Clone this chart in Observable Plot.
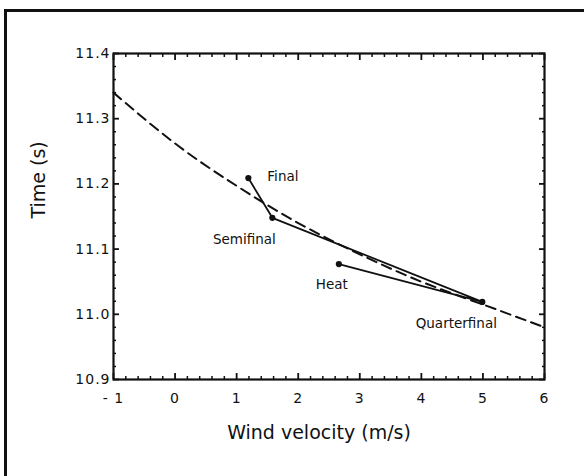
<!DOCTYPE html>
<html>
<head>
<meta charset="utf-8">
<script src="https://cdn.jsdelivr.net/npm/d3@7"></script>
<script src="https://cdn.jsdelivr.net/npm/@observablehq/plot@0.6"></script>
<style>
  html, body { margin: 0; padding: 0; background: #fff; overflow: hidden; }
  #wrap { position: relative; width: 584px; height: 476px; overflow: hidden; }
  #border { position: absolute; left: 4px; top: 9px; width: 700px; height: 700px;
            border-top: 3px solid #111; border-left: 3px solid #111; }
  #chart { position: absolute; left: 0; top: 0; }
  svg g[aria-label="x-axis tick label"] text,
  svg g[aria-label="y-axis tick label"] text { letter-spacing: 1px; }
</style>
</head>
<body>
<div id="wrap"><div id="border"></div><div id="chart"></div></div>
<script>
// Race rounds in chronological order (line connects them in this order)
const rounds = ["Heat", "Quarterfinal", "Semifinal", "Final"];
const wind = [2.66, 4.99, 1.58, 1.19];
const times = [11.077, 11.019, 11.148, 11.209];

// Dashed reference curve (time vs wind)
const curveWind = [-1, 0, 1, 2, 3, 4, 5, 6];
const curveTime = [11.340, 11.262, 11.197, 11.140, 11.092, 11.050, 11.015, 10.980];

// Axes
const xTicks = [-1, 0, 1, 2, 3, 4, 5, 6];
const xTickLabels = ["- 1", "0", "1", "2", "3", "4", "5", "6"];
const yTicks = [10.9, 11.0, 11.1, 11.2, 11.3, 11.4];
const yTickLabels = ["10.9", "11.0", "11.1", "11.2", "11.3", "11.4"];
const xLabel = "Wind velocity (m/s)";
const yLabel = "Time (s)";

const points = rounds.map((r, i) => ({round: r, wind: wind[i], time: times[i]}));
const curve = curveWind.map((w, i) => ({wind: w, time: curveTime[i]}));

const xMinor = d3.range(0, 36).map(i => -1 + i * 0.2).filter(v => Math.abs(v - Math.round(v)) > 1e-6);
const yMinor = d3.range(0, 26).map(i => 10.9 + i * 0.02).filter(v => Math.abs(v * 10 - Math.round(v * 10)) > 1e-6);

const labelStyle = {fontSize: 13.5, fill: "#111"};
const lab = (name, opts) => Plot.text(points.filter(d => d.round === name),
  {x: "wind", y: "time", text: "round", ...labelStyle, ...opts});

const chart = Plot.plot({
  width: 584,
  height: 476,
  marginLeft: 113,
  marginRight: 40,
  marginTop: 53,
  marginBottom: 97,
  style: {fontFamily: "DejaVu Sans", background: "transparent", color: "#111"},
  x: {domain: [-1, 6]},
  y: {domain: [10.9, 11.4]},
  marks: [
    // inward major ticks on all sides
    Plot.axisX({anchor: "bottom", ticks: xTicks, tickSize: -6, tickFormat: () => "", label: null, strokeWidth: 1.8}),
    Plot.axisX({anchor: "top", ticks: xTicks, tickSize: -6, tickFormat: () => "", label: null, strokeWidth: 1.8}),
    Plot.axisY({anchor: "left", ticks: yTicks, tickSize: -6, tickFormat: () => "", label: null, strokeWidth: 1.8}),
    Plot.axisY({anchor: "right", ticks: yTicks, tickSize: -6, tickFormat: () => "", label: null, strokeWidth: 1.8}),
    // inward minor ticks
    Plot.axisX({anchor: "bottom", ticks: xMinor, tickSize: -3, tickFormat: () => "", label: null, strokeWidth: 1.5}),
    Plot.axisX({anchor: "top", ticks: xMinor, tickSize: -3, tickFormat: () => "", label: null, strokeWidth: 1.5}),
    Plot.axisY({anchor: "left", ticks: yMinor, tickSize: -3, tickFormat: () => "", label: null, strokeWidth: 1.5}),
    Plot.axisY({anchor: "right", ticks: yMinor, tickSize: -3, tickFormat: () => "", label: null, strokeWidth: 1.5}),
    // tick labels
    Plot.axisX({anchor: "bottom", ticks: xTicks, tickSize: 0, tickPadding: 14, fontSize: 14,
      tickFormat: d => xTickLabels[xTicks.indexOf(d)], label: null}),
    Plot.axisY({anchor: "left", ticks: yTicks, tickSize: 0, tickPadding: 3, fontSize: 14,
      tickFormat: d => yTickLabels[yTicks.findIndex(t => Math.abs(t - d) < 1e-9)], label: null}),
    Plot.frame({stroke: "#111", strokeWidth: 2.2}),
    // dashed curve
    Plot.line(curve, {x: "wind", y: "time", curve: "natural", stroke: "#111",
      strokeWidth: 2, strokeDasharray: "10,6"}),
    // connecting line and points
    Plot.line(points, {x: "wind", y: "time", stroke: "#111", strokeWidth: 1.8}),
    Plot.dot(points, {x: "wind", y: "time", r: 3.1, fill: "#111", stroke: "none"}),
    // point labels
    lab("Final", {textAnchor: "start", dx: 19, dy: -1}),
    lab("Semifinal", {dx: -28, dy: 22}),
    lab("Heat", {dx: -7, dy: 21}),
    lab("Quarterfinal", {dx: -26, dy: 22}),
    // axis titles
    Plot.text([xLabel], {frameAnchor: "bottom", text: d => d, dy: 59, dx: -10, fontSize: 19, fill: "#111"}),
    Plot.text([yLabel], {frameAnchor: "left", text: d => d, dx: -75, dy: 2, rotate: -90, fontSize: 19, fill: "#111"})
  ]
});
document.getElementById("chart").appendChild(chart);
</script>
</body>
</html>
